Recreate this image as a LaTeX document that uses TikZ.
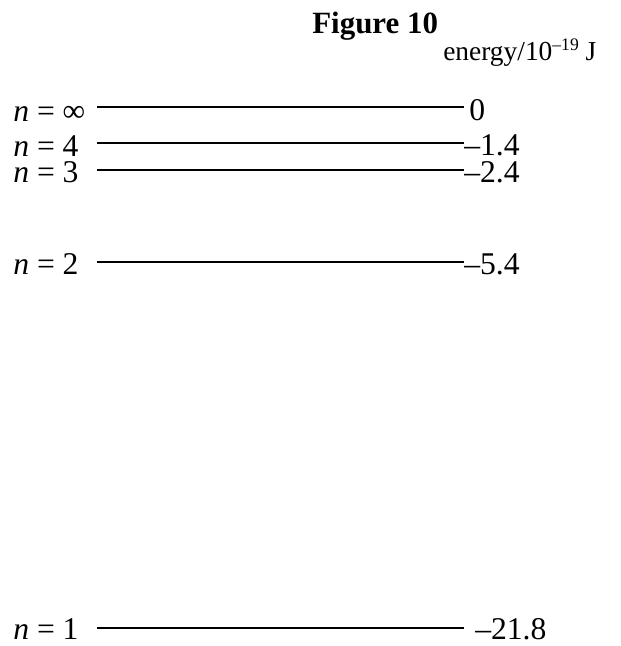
\documentclass[tikz,border=0pt]{standalone}
\usepackage{fontspec}
\setmainfont{Liberation Serif}
\tikzset{
  level/.style={line width=1.5pt},
  lab/.style={inner sep=0pt, anchor=base west}
}
\begin{document}
\begin{tikzpicture}[x=0.025cm, y=-0.025cm, font=\fontsize{22.5}{27}\selectfont]
\useasboundingbox (0,0) rectangle (620,646);

\node(title)[lab, font=\fontsize{22}{26}\selectfont\bfseries] at (312, 33) {Figure 10};
\node(unit)[lab, font=\fontsize{19.5}{23}\selectfont] at (443, 60)
    {energy/10\raisebox{7pt}{\fontsize{12.5}{13}\selectfont –19} J};

% levels
\coordinate(s0) at (97, 107);  \coordinate(e0) at (464, 107);
\coordinate(s4) at (97, 143);  \coordinate(e4) at (464, 143);
\coordinate(s3) at (97, 170);  \coordinate(e3) at (464, 170);
\coordinate(s2) at (97, 262);  \coordinate(e2) at (464, 262);
\coordinate(s1) at (97, 628);  \coordinate(e1) at (464, 628);

\draw[level] (s0)--(e0);
\draw[level] (s4)--(e4);
\draw[level] (s3)--(e3);
\draw[level] (s2)--(e2);
\draw[level] (s1)--(e1);

\node(n0)[lab] at (13, 121) {\textit{n} = ∞};
\node(n4)[lab] at (13, 156) {\textit{n} = 4};
\node(n3)[lab] at (13, 182) {\textit{n} = 3};
\node(n2)[lab] at (13, 274) {\textit{n} = 2};
\node(n1)[lab] at (13, 639) {\textit{n} = 1};

\node(v0)[lab] at (469, 120) {0};
\node(v4)[lab] at (464, 155) {–1.4};
\node(v3)[lab] at (464, 182) {–2.4};
\node(v2)[lab] at (464, 274) {–5.4};
\node(v1)[lab] at (475, 639) {–21.8};
\end{tikzpicture}
\end{document}
